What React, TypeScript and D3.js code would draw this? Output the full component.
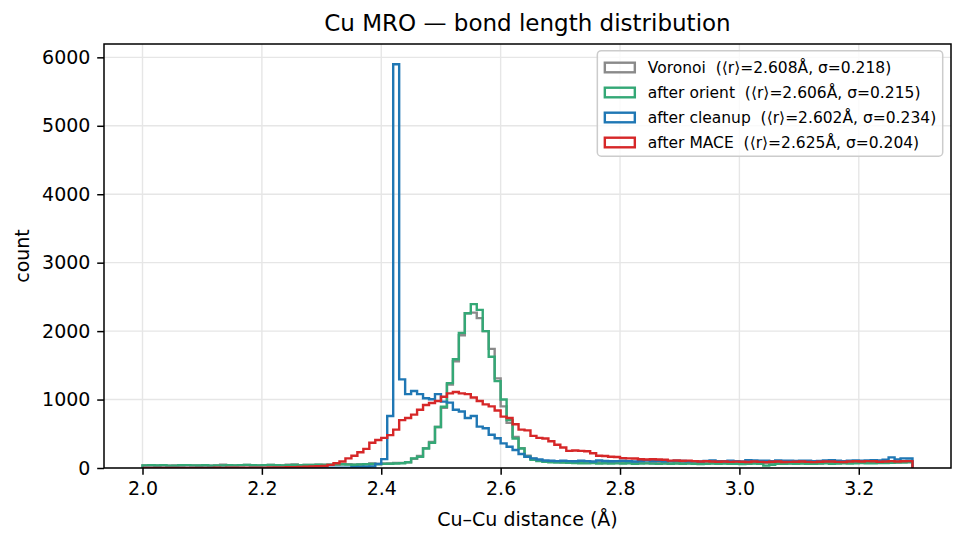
import * as d3 from "d3";
import { useEffect, useRef } from "react";

// histogram bins: 0.01 Å wide, starting at 2.00 Å
const binStart = 2.0;
const binWidth = 0.01;

// counts per bin, one array per stage
const voronoi = [
  38, 42, 36, 40, 35, 36, 40, 42, 38, 36,
  40, 35, 38, 50, 40, 38, 42, 45, 40, 38,
  42, 44, 40, 38, 48, 52, 40, 44, 43, 48,
  50, 48, 52, 55, 54, 48, 52, 55, 65, 58,
  65, 68, 72, 75, 85, 135, 175, 290, 380, 600,
  880, 1220, 1560, 1940, 2260, 2270, 2190, 2000, 1740, 1310,
  900, 660, 455, 290, 180, 135, 110, 100, 95, 90,
  85, 82, 85, 80, 78, 76, 80, 74, 78, 75,
  72, 75, 70, 78, 72, 70, 76, 72, 68, 74,
  70, 72, 75, 70, 68, 72, 70, 74, 78, 72,
  70, 75, 72, 68, 74, 70, 76, 72, 70, 75,
  72, 78, 74, 70, 76, 80, 74, 78, 82, 76,
  80, 78, 85, 82, 80, 88, 85, 90, 95,
];

const orient = [
  38, 40, 36, 42, 35, 34, 40, 42, 38, 36,
  40, 35, 38, 36, 40, 38, 42, 45, 40, 38,
  42, 44, 40, 38, 42, 45, 40, 44, 43, 48,
  46, 50, 52, 55, 50, 48, 52, 55, 58, 55,
  60, 62, 66, 70, 85, 140, 165, 285, 370, 600,
  895, 1240, 1590, 1975, 2260, 2395, 2310, 2000, 1625, 1270,
  1000, 700, 430, 285, 165, 120, 100, 92, 85, 80,
  78, 75, 72, 70, 68, 72, 65, 70, 66, 68,
  65, 70, 62, 66, 68, 64, 60, 66, 62, 65,
  60, 64, 62, 58, 62, 66, 60, 64, 62, 60,
  58, 62, 66, 60, 35, 48, 62, 60, 64, 62,
  66, 62, 60, 65, 68, 62, 66, 70, 64, 68,
  72, 70, 68, 74, 72, 76, 80, 78, 82,
];

const cleanup = [
  0, 0, 0, 0, 0, 0, 0, 0, 0, 0,
  0, 0, 0, 0, 0, 0, 0, 0, 0, 0,
  0, 0, 0, 0, 0, 0, 0, 0, 0, 2,
  2, 3, 4, 5, 6, 10, 15, 18, 22, 60,
  130, 760, 5900, 1295, 1080, 1125, 1080, 1020, 1005, 1080,
  970, 955, 850, 825, 730, 760, 605, 580, 485, 435,
  360, 310, 262, 205, 165, 140, 125, 110, 105, 100,
  105, 100, 98, 105, 100, 95, 110, 102, 98, 100,
  105, 100, 96, 102, 108, 100, 104, 98, 100, 105,
  102, 98, 100, 96, 104, 110, 100, 98, 105, 100,
  96, 115, 112, 108, 105, 100, 110, 108, 105, 102,
  108, 105, 100, 104, 110, 115, 105, 100, 108, 112,
  105, 110, 115, 112, 120, 155, 125, 140, 138,
];

const mace = [
  0, 0, 1, 0, 1, 1, 0, 2, 1, 2,
  2, 1, 3, 2, 3, 4, 3, 5, 4, 6,
  5, 7, 8, 8, 10, 12, 14, 18, 22, 26,
  30, 45, 70, 95, 140, 180, 230, 280, 370, 410,
  440, 480, 560, 700, 730, 780, 850, 920, 950, 980,
  1040, 1090, 1110, 1090, 1080, 1030, 980, 930, 900, 840,
  750, 730, 640, 560, 550, 470, 440, 430, 390, 340,
  300, 250, 255, 250, 245, 215, 180, 175, 165, 160,
  145, 140, 138, 128, 125, 128, 124, 120, 108, 110,
  105, 108, 100, 96, 98, 94, 92, 95, 90, 93,
  92, 88, 94, 90, 86, 92, 95, 88, 90, 92,
  95, 90, 86, 92, 96, 94, 90, 88, 96, 98,
  95, 100, 98, 92, 96, 100, 94, 98, 100,
];

const labels = [
  "Voronoi  (⟨r⟩=2.608Å, σ=0.218)",
  "after orient  (⟨r⟩=2.606Å, σ=0.215)",
  "after cleanup  (⟨r⟩=2.602Å, σ=0.234)",
  "after MACE  (⟨r⟩=2.625Å, σ=0.204)",
];
const colors = ["#8a8a8a", "#34a876", "#1f77b4", "#d62728"];

const xTicks = [2.0, 2.2, 2.4, 2.6, 2.8, 3.0, 3.2];
const yTicks = [0, 1000, 2000, 3000, 4000, 5000, 6000];

export default function App() {
  const svgRef = useRef(null);

  useEffect(() => {
    const m = { left: 104, right: 951, top: 44, bottom: 468 };
    const font = "'DejaVu Sans', sans-serif";
    const svg = d3.select(svgRef.current);
    svg.selectAll("*").remove();

    const all = [voronoi, orient, cleanup, mace];
    const nBins = voronoi.length;
    const edges = d3.range(nBins + 1).map((i) => binStart + i * binWidth);
    const lo = edges[0];
    const hi = edges[nBins];
    const pad = (hi - lo) * 0.05;

    const x = d3.scaleLinear().domain([lo - pad, hi + pad]).range([m.left, m.right]);
    const yMax = d3.max(all, (s) => d3.max(s));
    const y = d3.scaleLinear().domain([0, yMax * 1.05]).range([m.bottom, m.top]);

    svg.append("rect").attr("width", 964).attr("height", 544).attr("fill", "#fff");

    // grid
    const grid = svg.append("g").attr("stroke", "#e6e6e6").attr("stroke-width", 1.4);
    grid.selectAll(".gx").data(xTicks).enter().append("line")
      .attr("x1", (d) => x(d)).attr("x2", (d) => x(d))
      .attr("y1", m.top).attr("y2", m.bottom);
    grid.selectAll(".gy").data(yTicks).enter().append("line")
      .attr("x1", m.left).attr("x2", m.right)
      .attr("y1", (d) => y(d)).attr("y2", (d) => y(d));

    // step outlines
    const line = d3.line().x((d) => x(d[0])).y((d) => y(d[1]));
    const stepPoints = (counts) => {
      const pts = [[edges[0], 0]];
      counts.forEach((c, i) => {
        pts.push([edges[i], c]);
        pts.push([edges[i + 1], c]);
      });
      pts.push([edges[nBins], 0]);
      return pts;
    };
    const clip = svg.append("clipPath").attr("id", "plot-clip");
    clip.append("rect").attr("x", m.left).attr("y", m.top)
      .attr("width", m.right - m.left).attr("height", m.bottom - m.top);
    svg.append("g").attr("clip-path", "url(#plot-clip)")
      .selectAll("path").data(all).enter().append("path")
      .attr("d", (d) => line(stepPoints(d)))
      .attr("fill", "none")
      .attr("stroke", (d, i) => colors[i])
      .attr("stroke-width", 2.4)
      .attr("stroke-linejoin", "miter");

    // axes
    const xAxis = svg.append("g").attr("transform", `translate(0,${m.bottom})`)
      .call(d3.axisBottom(x).tickValues(xTicks).tickFormat(d3.format(".1f")).tickSize(6.8).tickPadding(6.5));
    const yAxis = svg.append("g").attr("transform", `translate(${m.left},0)`)
      .call(d3.axisLeft(y).tickValues(yTicks).tickFormat(d3.format("d")).tickSize(6.8).tickPadding(6.8));
    [xAxis, yAxis].forEach((a) => {
      a.select(".domain").remove();
      a.selectAll("line").attr("stroke", "#000").attr("stroke-width", 1.5);
      a.selectAll("text").attr("fill", "#000").style("font-family", font).style("font-size", "19px");
    });

    svg.append("rect")
      .attr("x", m.left).attr("y", m.top)
      .attr("width", m.right - m.left).attr("height", m.bottom - m.top)
      .attr("fill", "none").attr("stroke", "#000").attr("stroke-width", 1.5);

    // title and axis labels
    svg.append("text").attr("x", (m.left + m.right) / 2).attr("y", 31)
      .attr("text-anchor", "middle").style("font-family", font).style("font-size", "23px")
      .text("Cu MRO — bond length distribution");
    svg.append("text").attr("x", (m.left + m.right) / 2).attr("y", 526)
      .attr("text-anchor", "middle").style("font-family", font).style("font-size", "19px")
      .text("Cu–Cu distance (Å)");
    svg.append("text").attr("transform", `translate(29,${(m.top + m.bottom) / 2}) rotate(-90)`)
      .attr("text-anchor", "middle").style("font-family", font).style("font-size", "19px")
      .text("count");

    // legend
    const legend = svg.append("g");
    const frame = legend.append("rect");
    const rowY = (i) => 67.5 + i * 25;
    const texts = legend.selectAll("text").data(labels).enter().append("text")
      .attr("y", (d, i) => rowY(i))
      .attr("dy", "0.36em")
      .style("font-family", font).style("font-size", "15.5px").style("white-space", "pre")
      .text((d) => d);
    let textW = 0;
    texts.each(function () {
      textW = Math.max(textW, this.getComputedTextLength());
    });
    const boxRight = 942.7;
    const boxW = 50.5 + textW + 6.5;
    const boxLeft = boxRight - boxW;
    frame.attr("x", boxLeft).attr("y", 50.7).attr("width", boxW).attr("height", 105.5)
      .attr("rx", 4).attr("fill", "#fff").attr("fill-opacity", 0.8)
      .attr("stroke", "#cccccc").attr("stroke-width", 1.5);
    texts.attr("x", boxLeft + 50.5);
    legend.selectAll(".handle").data(labels).enter().append("rect")
      .attr("x", boxLeft + 7.5).attr("y", (d, i) => rowY(i) - 4.8)
      .attr("width", 30).attr("height", 9.6)
      .attr("fill", "none").attr("stroke", (d, i) => colors[i]).attr("stroke-width", 2.4);
  }, []);

  return (
    <div>
      <svg
        ref={svgRef}
        width={964}
        height={544}
        style={{ position: "absolute", left: 0, top: 0, display: "block" }}
      ></svg>
    </div>
  );
}
